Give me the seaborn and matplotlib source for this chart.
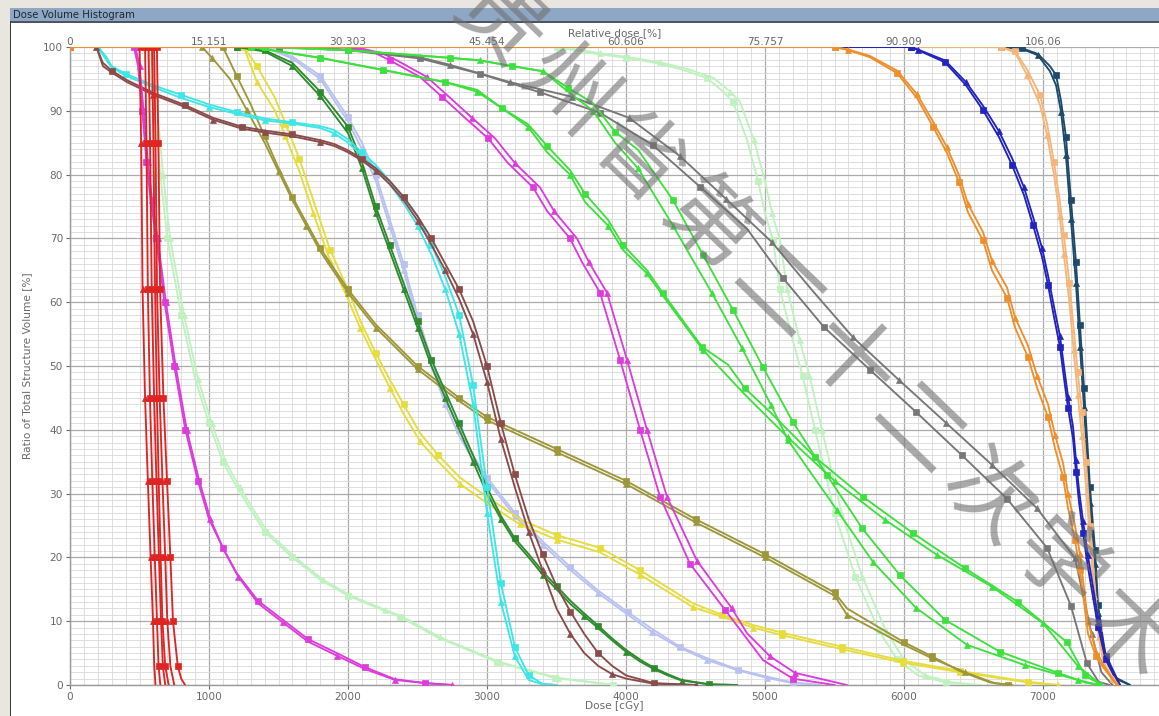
import numpy as np
import pandas as pd
import seaborn as sns
import matplotlib.pyplot as plt
from matplotlib.ticker import MultipleLocator
from matplotlib.patches import Rectangle

# ---------------- data: dose [cGy] vs. ratio of structure volume [%] ----------------
PRESCRIPTION = 6600.0
rel_tick_labels = ["0", "15.151", "30.303", "45.454", "60.606", "75.757", "90.909", "106.06"]
dose_ticks = [0, 1000, 2000, 3000, 4000, 5000, 6000, 7000]
vol_ticks = [0, 10, 20, 30, 40, 50, 60, 70, 80, 90, 100]
watermark_chars = ["贵", "州", "省", "第", "二", "十", "二", "次", "学", "术"]

# red structures (six curves)
red_a_dose = [0, 500, 512, 522, 540, 560, 580, 597, 606, 615]
red_a_vol = [100, 100, 85, 62, 45, 32, 20, 10, 3, 0]
red_b_dose = [0, 540, 550, 560, 575, 592, 610, 626, 637, 650]
red_b_vol = [100, 100, 85, 62, 45, 32, 20, 10, 3, 0]
red_c_dose = [0, 565, 576, 588, 605, 622, 640, 655, 668, 685]
red_c_vol = [100, 100, 85, 62, 45, 32, 20, 10, 3, 0]
red_d_dose = [0, 590, 600, 612, 625, 638, 652, 665, 685, 710]
red_d_vol = [100, 100, 85, 62, 45, 32, 20, 10, 3, 0]
red_e_dose = [0, 605, 615, 626, 645, 665, 685, 700, 722, 750]
red_e_vol = [100, 100, 85, 62, 45, 32, 20, 10, 3, 0]
red_f_dose = [0, 625, 636, 648, 672, 698, 722, 741, 775, 800, 828]
red_f_vol = [100, 100, 85, 62, 45, 32, 20, 10, 3, 1, 0]

# magenta (low dose)
mag1_sq_dose = [0, 460, 490, 520, 550, 580, 620, 680, 750, 830, 920, 1000, 1100, 1200, 1353, 1532, 1712, 1920, 2122, 2338, 2554, 2750]
mag1_sq_vol = [100, 100, 97, 90, 82, 76, 70, 60, 50, 40, 32, 26, 21.5, 17.5, 13.2, 10.2, 7.2, 5, 2.8, 0.9, 0.3, 0]
mag1_tri_dose = [0, 470, 500, 530, 560, 590, 630, 690, 760, 840, 930, 1010, 1110, 1210, 1353, 1532, 1712, 1920, 2122, 2338, 2554, 2750]
mag1_tri_vol = [100, 100, 97, 90, 82, 76, 70, 60, 50, 40, 32, 26, 21, 17, 12.8, 9.8, 6.8, 4.6, 2.5, 0.8, 0.3, 0]

# pale green (low dose)
pg1_sq_dose = [0, 550, 600, 650, 700, 800, 900, 1000, 1100, 1200, 1400, 1600, 1800, 2000, 2245, 2374, 2640, 3072, 3489, 3906]
pg1_sq_vol = [100, 100, 92, 80, 70, 58, 48, 41, 35, 31, 24, 20, 16.5, 14, 11.8, 10.7, 7.5, 3.6, 1.1, 0]
pg1_tri_dose = [0, 570, 620, 670, 720, 820, 920, 1020, 1120, 1220, 1420, 1620, 1820, 2020, 2265, 2394, 2660, 3092, 3509, 3926]
pg1_tri_vol = [100, 100, 92, 80, 70, 58, 48, 41, 35, 31, 24, 20, 16.5, 14, 11.8, 10.7, 7.5, 3.6, 1.1, 0]

# cyan
cyan_dose = [0, 200, 260, 300, 400, 600, 800, 1000, 1200, 1400, 1600, 1800, 1900, 2000, 2100, 2200, 2300, 2400, 2500, 2600, 2700, 2800, 2900, 3000, 3100, 3200, 3300, 3400, 3500]
cyan_sq_vol = [100, 100, 98.5, 97, 95.8, 94, 92.5, 91, 89.8, 88.8, 88.2, 87.6, 87, 85.5, 83.5, 81.5, 79, 76.5, 73.5, 69, 64, 58, 47, 31, 16, 6, 1.5, 0.2, 0]
cyan_tri_vol = [100, 100, 98, 96.8, 95.5, 93.7, 92, 90.6, 89.5, 88.5, 88, 87.3, 86.5, 85, 83, 81, 78.5, 75.5, 72, 67.5, 62, 55, 44, 27, 13, 4.5, 0.8, 0.1, 0]

# brown
brown_dose = [0, 190, 237, 300, 410, 600, 827, 1029, 1237, 1400, 1600, 1800, 1900, 2000, 2100, 2200, 2300, 2400, 2500, 2600, 2700, 2800, 2900, 3000, 3100, 3200, 3300, 3400, 3500, 3600, 3700, 3800, 3900, 4000, 4200, 4500]
brown_sq_vol = [100, 100, 97.5, 96.3, 94.8, 92.8, 90.9, 88.9, 87.5, 86.9, 86.3, 85.4, 84.8, 83.8, 82.5, 81, 79, 76.5, 73.5, 70, 66, 62, 57, 50, 41, 33, 26, 20.5, 15.5, 11.5, 8, 5, 3, 1.5, 0.3, 0]
brown_tri_vol = [100, 100, 97, 96, 94.5, 92.5, 90.6, 88.6, 87.2, 86.6, 86, 85.1, 84.5, 83.5, 82.2, 80.6, 78.5, 76, 72.8, 69, 65, 60.5, 55, 47.5, 38.5, 31, 24, 18, 12, 8, 5, 3, 1.7, 1, 0.2, 0]

# olive
olive_sq_dose = [0, 1100, 1201, 1300, 1400, 1500, 1600, 1700, 1800, 2000, 2200, 2500, 2800, 3000, 3500, 4000, 4500, 5000, 5500, 5590, 6000, 6200, 6400, 6619, 6750]
olive_sq_vol = [100, 100, 95.4, 91, 86, 81, 76.5, 72.5, 68.5, 62, 56.5, 50, 45, 42, 37, 32, 26, 20.5, 14.5, 12, 6.7, 4.5, 2.2, 0.4, 0]
olive_tri_dose = [0, 950, 1022, 1150, 1273, 1400, 1500, 1600, 1700, 1800, 2000, 2200, 2500, 2800, 3000, 3500, 4000, 4500, 5000, 5500, 5590, 6000, 6200, 6439, 6650, 6780]
olive_tri_vol = [100, 100, 98.3, 95, 90.1, 85, 80.5, 76, 72, 68, 61.5, 56, 49.5, 44.5, 41.5, 36.5, 31.5, 25.5, 20, 14, 11, 6.3, 4.2, 2, 0.3, 0]

# yellow
yel_dose = [0, 1250, 1345, 1475, 1550, 1650, 1750, 1871, 2000, 2086, 2200, 2302, 2400, 2518, 2650, 2806, 3000, 3237, 3500, 3813, 4100, 4482, 4690, 4914, 5122, 5554, 5993, 6403, 6892, 7108]
yel_sq_vol = [100, 100, 97, 92, 88, 82.5, 76, 68.2, 62, 57.2, 52, 47.8, 44, 39.5, 36, 32.5, 29.5, 26, 23.5, 21.5, 18, 12.8, 11, 9.4, 8.2, 6, 3.8, 2.2, 0.5, 0]
yel_tri_vol = [100, 100, 94.5, 90, 86, 80.5, 74, 66.5, 60.5, 56, 51, 46.5, 42.5, 38.2, 35, 31.5, 28.5, 25.2, 22.8, 20.8, 17.3, 12.2, 10.7, 9, 7.8, 5.6, 3.5, 2, 0.4, 0]

# dark green
dg_dose = [0, 1200, 1400, 1600, 1800, 2000, 2100, 2200, 2300, 2400, 2500, 2600, 2700, 2800, 2900, 3000, 3100, 3200, 3300, 3400, 3500, 3600, 3700, 3800, 3900, 4000, 4100, 4200, 4300, 4400, 4600, 4800]
dg_sq_vol = [100, 100, 99.5, 97.5, 93, 87.5, 82, 75, 69, 63, 57, 51, 46, 41, 36, 31, 26.5, 23, 20.5, 17.8, 15.5, 13.2, 11.2, 9.3, 7.3, 5.5, 4, 2.7, 1.7, 0.8, 0.1, 0]
dg_tri_vol = [100, 100, 99.3, 97, 92.3, 86.5, 81, 74, 68, 62, 56, 50, 45, 40, 35, 30, 26, 22.5, 20, 17.3, 15, 12.7, 10.8, 8.9, 7, 5.2, 3.7, 2.5, 1.5, 0.7, 0.1, 0]

# lavender
lav_dose = [0, 1400, 1600, 1800, 2000, 2100, 2200, 2300, 2400, 2500, 2600, 2700, 2800, 2900, 3000, 3200, 3400, 3600, 3800, 4014, 4187, 4388, 4583, 4806, 5014, 5200, 5400]
lav_sq_vol = [100, 100, 98.5, 95.5, 89, 85, 80, 73, 66, 58, 51, 45, 40, 36, 32.5, 27, 22.5, 18.5, 14.8, 11.4, 8.8, 6, 4.2, 2.4, 1.3, 0.4, 0]
lav_tri_vol = [100, 100, 98.2, 95, 88.3, 84, 79, 72, 65, 57, 50, 44, 39, 35.3, 32, 26.5, 22, 18, 14.4, 11, 8.3, 5.8, 3.9, 2.3, 1.1, 0.3, 0]

# magenta (mid dose)
mag2_sq_dose = [0, 2000, 2200, 2302, 2518, 2676, 2842, 3007, 3151, 3331, 3432, 3597, 3683, 3813, 3957, 4101, 4245, 4460, 4712, 4986, 5200, 5500]
mag2_sq_vol = [100, 100, 99, 97.9, 95.3, 92.2, 88.9, 85.7, 81.8, 78, 74.3, 70, 66.3, 61.5, 51, 40, 29.5, 19, 11.8, 3.9, 1, 0]
mag2_tri_dose = [0, 2050, 2250, 2352, 2568, 2726, 2892, 3057, 3201, 3381, 3482, 3647, 3733, 3863, 4007, 4151, 4295, 4510, 4762, 4871, 5036, 5216, 5590]
mag2_tri_vol = [100, 100, 99, 97.9, 95.3, 92.2, 88.9, 85.7, 81.8, 78, 74.3, 70, 66.3, 61.5, 51, 40, 29.5, 19.5, 12, 8.1, 4.5, 1.9, 0]

# bright green (upper pair)
g1_sq_dose = [0, 1400, 2000, 2734, 2950, 3180, 3403, 3583, 3763, 3921, 4086, 4338, 4554, 4770, 4986, 5201, 5446, 5698, 5971, 6295, 6691, 7108, 7302, 7400]
g1_sq_vol = [100, 100, 99.5, 98.3, 97.9, 97, 96.2, 93.6, 91.2, 86.7, 83.9, 76, 67.4, 58.8, 49.8, 41.2, 32.9, 24.6, 17.2, 10.2, 5.2, 1.9, 0.4, 0]
g1_tri_dose = [0, 1400, 2000, 2734, 2950, 3180, 3403, 3583, 3763, 3921, 4086, 4338, 4619, 4835, 5043, 5165, 5518, 5777, 6086, 6453, 6871, 7250, 7400]
g1_tri_vol = [100, 100, 99.5, 98.3, 97.9, 97, 96.2, 93, 90, 85, 81, 72, 61.4, 52.8, 43.9, 38.4, 27.4, 19.3, 12.1, 6.3, 3.1, 0.8, 0]

# bright green (lower pair)
g2_sq_dose = [0, 1300, 1800, 2252, 2698, 2928, 3108, 3295, 3432, 3597, 3705, 3871, 3978, 4151, 4266, 4547, 4734, 4856, 5036, 5360, 5705, 6065, 6439, 6820, 7173, 7302, 7420]
g2_sq_vol = [100, 100, 98.3, 96.4, 94.5, 93.3, 90.4, 87.9, 84.5, 80.7, 77, 72.9, 69, 65, 61.4, 53, 50.2, 46.5, 42.8, 35.7, 29.5, 23.8, 18.3, 13, 6.7, 1.5, 0]
g2_tri_dose = [0, 1300, 1800, 2252, 2698, 2928, 3108, 3295, 3432, 3597, 3705, 3871, 3978, 4151, 4266, 4554, 4856, 5165, 5500, 5863, 6237, 6633, 7000, 7250, 7420]
g2_tri_vol = [100, 100, 98.3, 96.4, 94.5, 93, 90.4, 87.5, 83.5, 80, 75.7, 72, 68.2, 64.5, 61, 52.5, 45.5, 38.8, 32, 25.9, 20.4, 15.4, 9.7, 3, 0]

# pale green (high dose)
pg2_sq_dose = [0, 3500, 3763, 4000, 4194, 4400, 4583, 4700, 4770, 4871, 4950, 5000, 5058, 5108, 5200, 5270, 5360, 5500, 5650, 5820, 5950, 6100, 6300, 6500]
pg2_sq_vol = [100, 100, 99, 98.3, 97.6, 96.5, 95.1, 93, 91.4, 85.4, 79, 74, 69.7, 62, 54, 48.5, 40, 27, 17, 8.5, 4, 1.5, 0.4, 0]
pg2_tri_dose = [0, 3550, 3813, 4050, 4244, 4450, 4633, 4750, 4820, 4921, 5000, 5050, 5108, 5160, 5250, 5320, 5410, 5550, 5700, 5870, 6000, 6150, 6350, 6550]
pg2_tri_vol = [100, 100, 99, 98.3, 97.6, 96.5, 95.1, 93, 91.4, 85.4, 79, 74, 69.7, 62, 54, 48.5, 40, 27, 17, 8.5, 4, 1.5, 0.4, 0]

# gray
gray_sq_dose = [0, 1500, 2000, 2518, 2950, 3381, 3813, 4194, 4532, 4871, 5129, 5424, 5755, 6086, 6417, 6741, 7029, 7201, 7316, 7400, 7480]
gray_sq_vol = [100, 100, 99.5, 98.2, 95.8, 92.9, 89.7, 84.6, 78.1, 71.5, 63.8, 56.1, 49.4, 42.8, 36, 29.2, 21.5, 12.4, 3.4, 0.5, 0]
gray_tri_dose = [0, 1500, 2000, 2518, 2734, 3165, 3612, 4022, 4388, 4719, 5050, 5338, 5633, 5964, 6302, 6633, 6957, 7230, 7350, 7420, 7500]
gray_tri_vol = [100, 100, 99.6, 98.4, 97.2, 94.5, 92.2, 88.9, 82.9, 76.2, 69.4, 61.9, 54.5, 47.8, 41.1, 34.5, 27.7, 19.9, 8, 2, 0]

# orange
org_dose = [0, 5500, 5600, 5755, 5950, 6094, 6209, 6309, 6396, 6460, 6568, 6633, 6741, 6799, 6892, 6957, 7036, 7086, 7144, 7180, 7230, 7266, 7323, 7380, 7432, 7532]
org_sq_vol = [100, 100, 99.5, 98.4, 95.9, 92, 87.5, 83.4, 78.8, 74.1, 69.7, 65, 60.7, 56, 51.4, 46.6, 42, 37.1, 32.6, 27.7, 22.7, 18, 8.1, 4.5, 2.8, 0]
org_tri_vol = [100, 100, 99.6, 98.6, 96.3, 92.6, 88.3, 84.3, 79.9, 75.4, 71, 66.5, 62.3, 57.6, 53.2, 48.5, 44, 39.2, 34.8, 30, 25, 20.5, 10, 5.5, 3.2, 0]

# blue
blue_dose = [0, 6050, 6101, 6295, 6446, 6568, 6683, 6777, 6863, 6928, 6993, 7036, 7079, 7122, 7151, 7180, 7216, 7237, 7259, 7288, 7323, 7396, 7450, 7554]
blue_sq_vol = [100, 100, 99.5, 97.6, 94, 90.1, 85.9, 81.5, 76.8, 72.1, 67.1, 62.7, 57.7, 53, 48.1, 43.4, 38.6, 33.4, 28.7, 23.8, 18.5, 9.1, 4, 0]
blue_tri_vol = [100, 100, 99.6, 97.9, 94.5, 90.8, 86.8, 82.6, 78, 73.4, 68.5, 64.2, 59.3, 54.7, 49.9, 45.2, 40.5, 35.3, 30.6, 25.7, 20.3, 10.5, 4.8, 0]

# light orange
lorg_dose = [0, 6700, 6800, 6885, 6978, 7029, 7079, 7120, 7150, 7190, 7220, 7250, 7280, 7310, 7340, 7370, 7400, 7440, 7500, 7554]
lorg_sq_vol = [100, 100, 99.3, 96.5, 92.5, 88, 82, 76, 70.5, 63, 56, 49, 42.8, 35, 25, 16, 9, 3.5, 1, 0]
lorg_tri_vol = [100, 100, 99.1, 95.6, 91, 86.2, 80, 73.5, 67.5, 60, 52.5, 45.5, 39, 31, 22, 14, 7.5, 3, 0.8, 0]

# navy
navy_dose = [0, 6700, 6850, 6964, 7050, 7094, 7130, 7165, 7201, 7237, 7266, 7295, 7338, 7374, 7396, 7450, 7520, 7626]
navy_sq_vol = [100, 100, 99.8, 98.9, 97, 95.6, 91.5, 85.9, 76, 66.3, 56.4, 46.6, 31, 21.2, 12.5, 4.5, 1.2, 0]
navy_tri_vol = [100, 100, 99.7, 98.7, 96.2, 94, 89.8, 83, 73, 63, 53, 43.5, 28.5, 19, 11.3, 4, 1, 0]

# ---------------- curve table (built from the arrays above) ----------------
curves = [
    # label, dose, volume, colour, marker
    ("pg2_s", pg2_sq_dose, pg2_sq_vol, "#bff2bf", "s"),
    ("pg2_t", pg2_tri_dose, pg2_tri_vol, "#bff2bf", "^"),
    ("pg1_s", pg1_sq_dose, pg1_sq_vol, "#bff2bf", "s"),
    ("pg1_t", pg1_tri_dose, pg1_tri_vol, "#bff2bf", "^"),
    ("lav_s", lav_dose, lav_sq_vol, "#b9c1f0", "s"),
    ("lav_t", lav_dose, lav_tri_vol, "#b9c1f0", "^"),
    ("yel_s", yel_dose, yel_sq_vol, "#e6dc3c", "s"),
    ("yel_t", yel_dose, yel_tri_vol, "#e6dc3c", "^"),
    ("olive_s", olive_sq_dose, olive_sq_vol, "#9d973a", "s"),
    ("olive_t", olive_tri_dose, olive_tri_vol, "#9d973a", "^"),
    ("dg_s", dg_dose, dg_sq_vol, "#2e8b2e", "s"),
    ("dg_t", dg_dose, dg_tri_vol, "#2e8b2e", "^"),
    ("cyan_s", cyan_dose, cyan_sq_vol, "#3fe6e6", "s"),
    ("cyan_t", cyan_dose, cyan_tri_vol, "#3fe6e6", "^"),
    ("brown_s", brown_dose, brown_sq_vol, "#8a4b4b", "s"),
    ("brown_t", brown_dose, brown_tri_vol, "#8a4b4b", "^"),
    ("mag2_s", mag2_sq_dose, mag2_sq_vol, "#dc3cdc", "s"),
    ("mag2_t", mag2_tri_dose, mag2_tri_vol, "#dc3cdc", "^"),
    ("mag1_s", mag1_sq_dose, mag1_sq_vol, "#dc3cdc", "s"),
    ("mag1_t", mag1_tri_dose, mag1_tri_vol, "#dc3cdc", "^"),
    ("gray_s", gray_sq_dose, gray_sq_vol, "#777777", "s"),
    ("gray_t", gray_tri_dose, gray_tri_vol, "#777777", "^"),
    ("g2_s", g2_sq_dose, g2_sq_vol, "#3ee03e", "s"),
    ("g2_t", g2_tri_dose, g2_tri_vol, "#3ee03e", "^"),
    ("g1_s", g1_sq_dose, g1_sq_vol, "#3ee03e", "s"),
    ("g1_t", g1_tri_dose, g1_tri_vol, "#3ee03e", "^"),
    ("red_a", red_a_dose, red_a_vol, "#e02424", "^"),
    ("red_b", red_b_dose, red_b_vol, "#e02424", "s"),
    ("red_c", red_c_dose, red_c_vol, "#e02424", "^"),
    ("red_d", red_d_dose, red_d_vol, "#e02424", "s"),
    ("red_e", red_e_dose, red_e_vol, "#e02424", "^"),
    ("red_f", red_f_dose, red_f_vol, "#e02424", "s"),
    ("navy_s", navy_dose, navy_sq_vol, "#1d4a6c", "s"),
    ("navy_t", navy_dose, navy_tri_vol, "#1d4a6c", "^"),
    ("lorg_s", lorg_dose, lorg_sq_vol, "#f6b679", "s"),
    ("lorg_t", lorg_dose, lorg_tri_vol, "#f6b679", "^"),
    ("blue_s", blue_dose, blue_sq_vol, "#2323bf", "s"),
    ("blue_t", blue_dose, blue_tri_vol, "#2323bf", "^"),
    ("org_s", org_dose, org_sq_vol, "#ef8f2c", "s"),
    ("org_t", org_dose, org_tri_vol, "#ef8f2c", "^"),
]

frames = []
for label, d, v, col, mk in curves:
    frames.append(pd.DataFrame({"dose": d, "volume": v, "curve": label}))
dvh = pd.concat(frames, ignore_index=True)

# ---------------- figure ----------------
sns.set_theme(style="white")
plt.rcParams["font.family"] = ["DejaVu Sans"]

W, H = 1159, 716
fig = plt.figure(figsize=(W / 100, H / 100), dpi=100)
fig.patch.set_facecolor("#e9e6e0")

# window panel, title bar
fig.add_artist(Rectangle((10 / W, 0), 1, 1 - 8 / H, transform=fig.transFigure,
                         facecolor="white", edgecolor="none", zorder=0))
fig.add_artist(Rectangle((10 / W, 1 - 21 / H), 1, 13 / H, transform=fig.transFigure,
                         facecolor="#8ea7c5", edgecolor="none", zorder=1))
fig.add_artist(Rectangle((10 / W, 1 - 23 / H), 1, 2 / H, transform=fig.transFigure,
                         facecolor="#4b5563", edgecolor="none", zorder=1))
fig.add_artist(Rectangle((10 / W, 0), 1.2 / W, 1 - 21 / H, transform=fig.transFigure,
                         facecolor="#3a3a3a", edgecolor="none", zorder=1))
fig.text(13 / W, 1 - 14.5 / H, "Dose Volume Histogram", fontsize=7.3, color="#1e2530",
         ha="left", va="center", zorder=2)

x_max = (W - 70) / 139.0 * 1000
ax = fig.add_axes([70 / W, 1 - 685 / H, (W - 70) / W, (685 - 47) / H])
ax.set_facecolor("white")
ax.set_xlim(0, x_max)
ax.set_ylim(0, 100)

ax.xaxis.set_major_locator(MultipleLocator(1000))
ax.xaxis.set_minor_locator(MultipleLocator(100))
ax.yaxis.set_major_locator(MultipleLocator(10))
ax.yaxis.set_minor_locator(MultipleLocator(1))
ax.grid(which="minor", color="#d9d9d9", lw=0.6)
ax.grid(which="major", color="#ababab", lw=0.9)
ax.set_axisbelow(True)

for i, (label, d, v, col, mk) in enumerate(curves):
    sub = dvh[dvh["curve"] == label]
    start = 0.0 if mk == "s" else 0.025
    sns.lineplot(data=sub, x="dose", y="volume", ax=ax, color=col, lw=1.35,
                 marker=mk, markersize=4.3, markeredgecolor=col, markeredgewidth=0.5,
                 markevery=(start, 0.05), sort=False, estimator=None, legend=False,
                 zorder=3 + i * 0.01)

ax.set_xticks(dose_ticks)
ax.set_yticks(vol_ticks)
ax.tick_params(axis="both", which="major", labelsize=7.6, colors="#6a6a6a", length=3,
               width=0.8, direction="out", pad=2, left=True, bottom=True)
ax.tick_params(which="minor", length=0)
for s in ["top", "right"]:
    ax.spines[s].set_visible(False)
for s in ["left", "bottom"]:
    ax.spines[s].set_color("#9a9a9a")
    ax.spines[s].set_linewidth(1.0)

ax.set_xlabel("Dose [cGy]", fontsize=7.6, color="#6a6a6a", labelpad=-1)
ax.set_ylabel("Ratio of Total Structure Volume [%]", fontsize=7.6, color="#6a6a6a", labelpad=8)

top = ax.secondary_xaxis("top", functions=(lambda d: d / PRESCRIPTION * 100,
                                            lambda r: r * PRESCRIPTION / 100))
top.set_xticks([t / PRESCRIPTION * 100 for t in dose_ticks], labels=rel_tick_labels)
top.tick_params(labelsize=7.6, colors="#6a6a6a", length=0, pad=0)
top.spines["top"].set_visible(False)
top.set_xlabel("Relative dose [%]", fontsize=7.6, color="#6a6a6a", labelpad=1)

# diagonal watermark, one glyph at a time along the slant
wm_x0, wm_y0 = 497, 24          # centre of the first glyph, pixels from top-left
wm_step_x, wm_step_y = 70, 68   # advance between glyphs
for k, ch in enumerate(watermark_chars):
    px = wm_x0 + k * wm_step_x
    py = wm_y0 + k * wm_step_y
    fig.text(px / W, 1 - py / H, ch, fontsize=64, fontweight="normal",
             family=["Noto Sans CJK SC", "DejaVu Sans"], color="#707070", alpha=0.6,
             rotation=-44, rotation_mode="anchor", ha="center", va="center", zorder=20)

fig.savefig("out.png", dpi=100, facecolor=fig.get_facecolor())
